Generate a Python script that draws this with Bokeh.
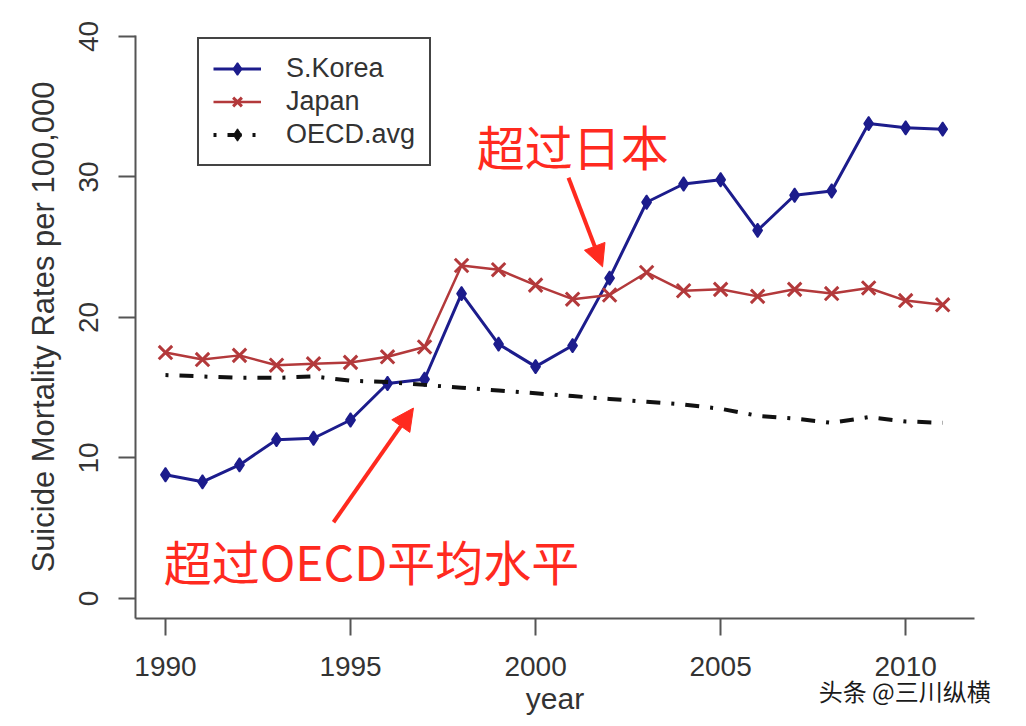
from bokeh.plotting import figure
from bokeh.models import (Range1d, FixedTicker, Legend, LegendItem, Label, Arrow,
                          NormalHead)
from bokeh.embed import file_html
from bokeh.resources import INLINE

years = list(range(1990, 2012))
korea = [8.8, 8.3, 9.5, 11.3, 11.4, 12.7, 15.3, 15.6, 21.7, 18.1, 16.5, 18.0,
         22.8, 28.2, 29.5, 29.8, 26.2, 28.7, 29.0, 33.8, 33.5, 33.4]
japan = [17.5, 17.0, 17.3, 16.6, 16.7, 16.8, 17.2, 17.9, 23.7, 23.4, 22.3, 21.3,
         21.6, 23.2, 21.9, 22.0, 21.5, 22.0, 21.7, 22.1, 21.2, 20.9]
oecd = [15.9, 15.8, 15.7, 15.7, 15.8, 15.5, 15.4, 15.2, 15.0, 14.8, 14.6, 14.4,
        14.2, 14.0, 13.8, 13.5, 13.0, 12.8, 12.5, 12.9, 12.6, 12.5]
x_ticks = [1990, 1995, 2000, 2005, 2010]
y_ticks = [0, 10, 20, 30, 40]
series_names = ["S.Korea", "Japan", "OECD.avg"]

FONT = "Liberation Sans"
TXT = "#333333"
AX = "#555555"
KOREA_C = "#1c1c8c"
JAPAN_C = "#b3393b"
RED = "#ff2a1f"

p = figure(width=1026, height=726, output_backend="svg", toolbar_location=None,
           x_range=Range1d(1989.19, 2011.86), y_range=Range1d(-1.43, 40.07),
           min_border_left=135, min_border_right=52, min_border_top=15,
           min_border_bottom=108)
p.outline_line_color = None
p.grid.visible = False
p.background_fill_color = "white"
p.border_fill_color = "white"

for ax in (p.xaxis[0], p.yaxis[0]):
    ax.axis_line_color = AX
    ax.axis_line_width = 2
    ax.major_tick_line_color = AX
    ax.major_tick_line_width = 2
    ax.major_tick_out = 17
    ax.major_tick_in = 0
    ax.minor_tick_line_color = None
    ax.major_label_text_font = FONT
    ax.major_label_text_color = TXT
    ax.major_label_text_font_size = "28px"
    ax.axis_label_text_font = FONT
    ax.axis_label_text_color = TXT
    ax.axis_label_text_font_style = "normal"

p.xaxis.axis_label_text_font_size = "30px"
p.yaxis.axis_label_text_font_size = "31px"
p.xaxis.ticker = FixedTicker(ticks=x_ticks)
p.yaxis.ticker = FixedTicker(ticks=y_ticks)
p.xaxis.axis_label = "year"
p.yaxis.axis_label = "Suicide Mortality Rates per 100,000"
p.yaxis.major_label_orientation = "vertical"
p.xaxis.major_label_standoff = 21
p.yaxis.major_label_standoff = 20
p.xaxis.axis_label_standoff = 3
p.yaxis.axis_label_standoff = 16

k_line = p.line(years, korea, line_color=KOREA_C, line_width=3)
k_pts = p.scatter(years, korea, marker="diamond", size=14,
                  fill_color=KOREA_C, line_color=KOREA_C, line_width=1.5)
j_line = p.line(years, japan, line_color=JAPAN_C, line_width=2.5)
j_pts = p.scatter(years, japan, marker="x", size=19, line_color=JAPAN_C,
                  line_width=3)
o_line = p.line(years, oecd, line_color="#111111", line_width=4,
                line_dash="3 11 14 11")
# legend-only key marker for the OECD series (not drawn in the plot area)
o_key = p.scatter([float("nan")], [float("nan")], marker="diamond", size=13,
                  fill_color="#111111", line_color="#111111")

legend = Legend(items=[
    LegendItem(label=series_names[0], renderers=[k_line, k_pts]),
    LegendItem(label=series_names[1], renderers=[j_line, j_pts]),
    LegendItem(label=series_names[2], renderers=[o_line, o_key]),
], location=(62, 452))
legend.label_text_font = FONT
legend.label_text_font_size = "27px"
legend.label_text_color = TXT
legend.glyph_width = 48
legend.glyph_height = 31
legend.label_height = 31
legend.label_standoff = 25
legend.spacing = 2
legend.padding = 14
legend.margin = 0
legend.border_line_color = "#444444"
legend.border_line_width = 2
legend.border_line_alpha = 1
legend.background_fill_alpha = 1
p.add_layout(legend, "center")

# annotations
p.add_layout(Label(x=1998.41, y=32.3, text="超过日本", text_font="Noto Sans CJK SC",
                   text_font_size="48px", text_color=RED, text_baseline="middle",
                   text_align="left"))
p.add_layout(Label(x=1989.95, y=2.71, text="超过OECD平均水平",
                   text_font="Noto Sans CJK SC", text_font_size="48px",
                   text_color=RED, text_baseline="middle", text_align="left"))
p.add_layout(Arrow(x_start=2000.89, y_start=29.95, x_end=2001.81, y_end=23.6,
                   line_color=RED, line_width=4,
                   end=NormalHead(size=22, fill_color=RED, line_color=RED)))
p.add_layout(Arrow(x_start=1994.54, y_start=5.42, x_end=1996.70, y_end=13.55,
                   line_color=RED, line_width=4,
                   end=NormalHead(size=22, fill_color=RED, line_color=RED)))
p.add_layout(Label(x=2007.65, y=-6.56, text="头条 @三川纵横",
                   text_font="Noto Sans CJK SC", text_font_size="24px",
                   text_color="#1a1a1a", text_baseline="middle", text_align="left"),
             "above")

open("out.html", "w").write(file_html(p, INLINE))
